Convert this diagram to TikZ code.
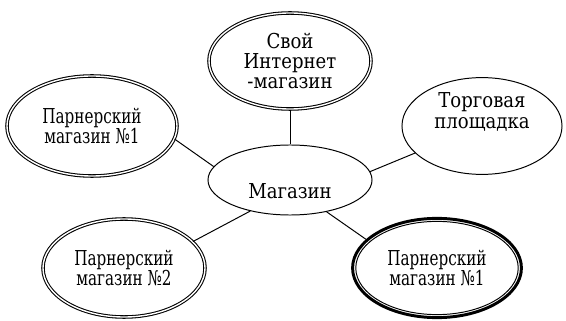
\documentclass[tikz,border=0pt]{standalone}
\usepackage{fontspec}
\setmainfont[FakeStretch=0.88]{DejaVu Serif}
\newfontfamily\narrowserif[FakeStretch=0.74]{DejaVu Serif}
\usetikzlibrary{shapes.geometric}
\definecolor{Ink}{RGB}{0,0,0}
\tikzset{
  oval/.style={ellipse,draw=Ink,line width=.7pt,inner sep=0pt,align=center,text=Ink,font=\fontsize{14.6}{14.5}\selectfont},
  twinOval/.style={oval,double=white,double distance=1pt,line width=.75pt},
  boldOval/.style={oval,line width=2.1pt},
  narrow/.style={font=\narrowserif\fontsize{14.6}{14.5}\selectfont},
  caption/.style={align=center,text=Ink,inner sep=0pt,font=\fontsize{14.6}{14.5}\selectfont},
  innerRing/.style={draw=Ink,line width=.7pt},
  link/.style={draw=Ink,line width=.7pt}
}

\begin{document}
\begin{tikzpicture}[x=0.025cm,y=-0.025cm]
  \useasboundingbox (0,0) rectangle (566,321);
  \node[oval,minimum width=4.1cm,minimum height=1.75cm,text height=.9cm,text depth=0pt] (store) at (290,180) {Магазин};
  \node[twinOval,minimum width=4.05cm,minimum height=2.4cm] (ownShop) at (290,61) {Свой\\Интернет\\-магазин};
  \node[twinOval,narrow,minimum width=4.25cm,minimum height=2.5cm] (partnerOne) at (92,126) {Парнерский\\магазин №1};
  \node[oval,minimum width=4.0cm,minimum height=2.42cm] (market) at (482,126) {};
  \node[caption] (marketText) at (482,112) {Торговая\\площадка};
  \node[twinOval,narrow,minimum width=4.05cm,minimum height=2.45cm] (partnerTwo) at (124,268) {Парнерский\\магазин №2};
  \node[boldOval,narrow,minimum width=4.22cm,minimum height=2.48cm] (partnerBold) at (437,268) {Парнерский\\магазин №1};
  \draw[innerRing] (partnerBold.center) ellipse [x radius=2.03cm,y radius=1.165cm];
  \draw[link] (store.90) -- (ownShop.270);
  \draw[link] (store.170) -- (partnerOne.-9);
  \draw[link] (store.6) -- (market.202);
  \draw[link] (store.218) -- (partnerTwo.21);
  \draw[link] (store.319) -- (partnerBold.158);
\end{tikzpicture}
\end{document}
